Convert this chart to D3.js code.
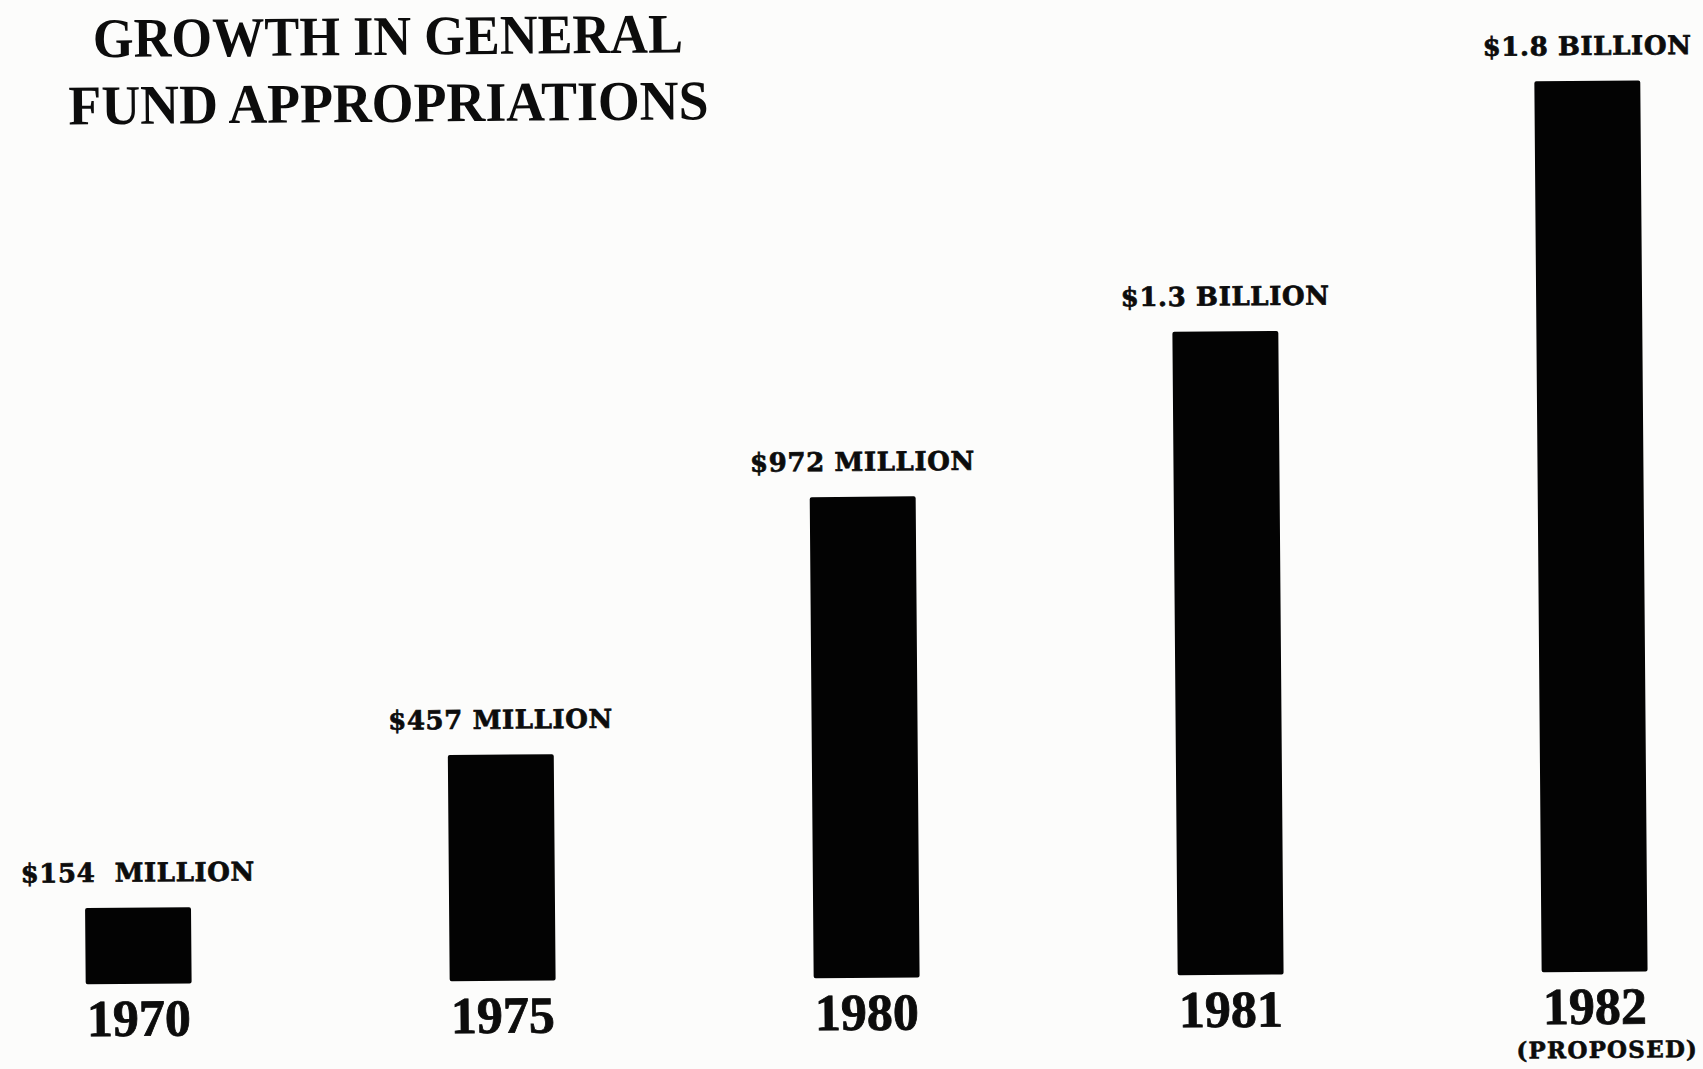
<!DOCTYPE html>
<html>
<head>
<meta charset="utf-8">
<script src="https://cdn.jsdelivr.net/npm/d3@7"></script>
<style>
  html, body { margin: 0; padding: 0; background: #fcfcfb; }
  svg { display: block; }
  text { white-space: pre; }
</style>
</head>
<body>
<svg id="chart" width="1703" height="1069"></svg>
<script>
// ---- data ----
const years = ["1970", "1975", "1980", "1981", "1982"];
const values = [154, 457, 972, 1300, 1800]; // millions of dollars
const valueLabels = ["$154  MILLION", "$457 MILLION", "$972 MILLION", "$1.3 BILLION", "$1.8 BILLION"];
const yearNotes = ["", "", "", "", "(PROPOSED)"];
const titleLines = ["GROWTH IN GENERAL", "FUND APPROPRIATIONS"];

const W = 1703, H = 1069;
const baseline = 978;

const svg = d3.select("#chart");
svg.append("rect").attr("width", W).attr("height", H).attr("fill", "#fcfcfb");

// the scanned original is slightly tilted
const g = svg.append("g").attr("transform", "rotate(-0.47, 850, 535)");

const x = d3.scaleBand()
  .domain(years)
  .range([-47, 1773])
  .paddingInner(0.709)
  .paddingOuter(0.3545);

const y = d3.scaleLinear()
  .domain([0, 2000])
  .range([baseline, baseline - 990]);

const data = years.map((yr, i) => ({ year: yr, value: values[i], label: valueLabels[i], note: yearNotes[i] }));

// bars
g.selectAll("rect.bar")
  .data(data)
  .join("rect")
  .attr("class", "bar")
  .attr("x", d => x(d.year))
  .attr("y", d => y(d.value))
  .attr("width", x.bandwidth())
  .attr("height", d => y(0) - y(d.value))
  .attr("rx", 2)
  .attr("fill", "#030303");

// value labels
g.selectAll("text.val")
  .data(data)
  .join("text")
  .attr("class", "val")
  .attr("x", d => x(d.year) + x.bandwidth() / 2)
  .attr("y", d => y(d.value) - 26)
  .attr("text-anchor", "middle")
  .attr("font-family", "'DejaVu Serif', serif")
  .attr("font-weight", "bold")
  .attr("font-size", 26)
  .attr("letter-spacing", 0.6)
  .attr("fill", "#0c0c0c")
  .attr("stroke", "#0c0c0c")
  .attr("stroke-width", 0.7)
  .text(d => d.label);

// year labels (x axis)
const xAxis = d3.axisBottom(x).tickSize(0).tickPadding(0);
const axisG = g.append("g")
  .attr("transform", `translate(0, ${baseline})`)
  .call(xAxis);
axisG.select(".domain").remove();
axisG.selectAll(".tick text")
  .attr("dy", null)
  .attr("y", 52)
  .attr("font-family", "'Liberation Serif', serif")
  .attr("font-weight", "bold")
  .attr("font-size", 52)
  .attr("fill", "#0c0c0c")
  .attr("stroke", "#0c0c0c")
  .attr("stroke-width", 0.8);

// notes under years
g.selectAll("text.note")
  .data(data.filter(d => d.note))
  .join("text")
  .attr("class", "note")
  .attr("x", d => x(d.year) + x.bandwidth() / 2 + 12)
  .attr("y", baseline + 86)
  .attr("text-anchor", "middle")
  .attr("font-family", "'DejaVu Serif', serif")
  .attr("font-weight", "bold")
  .attr("font-size", 23)
  .attr("letter-spacing", 1.2)
  .attr("fill", "#0c0c0c")
  .attr("stroke", "#0c0c0c")
  .attr("stroke-width", 0.6)
  .text(d => d.note);

// title
const titleLen = [590, 640];
const titleBase = [51, 118];
g.selectAll("text.title")
  .data(titleLines)
  .join("text")
  .attr("class", "title")
  .attr("x", (d, i) => 392 - titleLen[i] / 2)
  .attr("y", (d, i) => titleBase[i])
  .attr("textLength", (d, i) => titleLen[i])
  .attr("lengthAdjust", "spacingAndGlyphs")
  .attr("font-family", "'Liberation Serif', serif")
  .attr("font-weight", "bold")
  .attr("font-size", 56)
  .attr("fill", "#0c0c0c")
  .text(d => d);
</script>
</body>
</html>
